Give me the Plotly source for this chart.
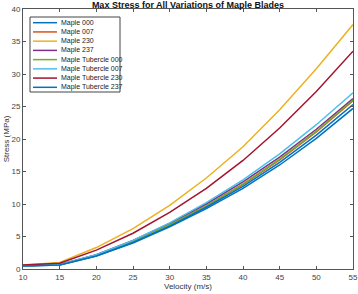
import plotly.graph_objects as go

velocity = [10, 15, 20, 25, 30, 35, 40, 45, 50, 55]
series_names = ["Maple 000", "Maple 007", "Maple 230", "Maple 237",
                "Maple Tubercle 000", "Maple Tubercle 007", "Maple Tubercle 230", "Maple Tubercle 237"]
maple_000 = [0.45, 0.6, 2.0, 4.0, 6.5, 9.3, 12.4, 16.0, 20.1, 24.7]
maple_007 = [0.5, 0.65, 2.1, 4.2, 6.8, 9.7, 13.0, 16.8, 21.1, 25.9]
maple_230 = [0.6, 1.0, 3.3, 6.2, 9.8, 14.0, 18.8, 24.5, 30.8, 37.6]
maple_237 = [0.5, 0.7, 2.2, 4.4, 7.0, 10.0, 13.4, 17.2, 21.5, 26.2]
tub_000 = [0.5, 0.65, 2.1, 4.2, 6.8, 9.7, 13.1, 16.9, 21.2, 26.0]
tub_007 = [0.5, 0.7, 2.2, 4.4, 7.1, 10.2, 13.7, 17.7, 22.2, 27.1]
tub_230 = [0.6, 0.9, 2.9, 5.5, 8.7, 12.4, 16.7, 21.7, 27.3, 33.5]
tub_237 = [0.45, 0.6, 2.0, 4.1, 6.6, 9.5, 12.7, 16.4, 20.6, 25.3]
all_values = [maple_000, maple_007, maple_230, maple_237, tub_000, tub_007, tub_230, tub_237]
colors = ["#0072BD", "#D95319", "#EDB120", "#7E2F8E", "#77AC30", "#4DBEEE", "#A2142F", "#0072BD"]

x_ticks = [10, 15, 20, 25, 30, 35, 40, 45, 50, 55]
y_ticks = [0, 5, 10, 15, 20, 25, 30, 35, 40]

W, H = 358, 294
ML, MR, MT, MB = 23, 5, 9, 25
PW, PH = W - ML - MR, H - MT - MB

def px_x(px):
    return (px - ML) / PW

def px_y(py):
    return (H - MB - py) / PH

fig = go.Figure()
for name, vals, c in zip(series_names, all_values, colors):
    fig.add_trace(go.Scatter(x=velocity, y=vals, mode="lines", name=name,
                             line=dict(color=c, width=1.5), showlegend=False,
                             hoverinfo="skip"))

# compact MATLAB-style legend (box, line samples, labels)
shapes = [dict(type="rect", xref="paper", yref="paper",
               x0=px_x(30), x1=px_x(120), y0=px_y(92), y1=px_y(17),
               line=dict(color="#444444", width=1), fillcolor="white", layer="above")]
annotations = []
for i, (name, c) in enumerate(zip(series_names, colors)):
    yy = px_y(22.7 + 9.23 * i)
    shapes.append(dict(type="line", xref="paper", yref="paper",
                       x0=px_x(33), x1=px_x(57), y0=yy, y1=yy,
                       line=dict(color=c, width=1.5), layer="above"))
    annotations.append(dict(text=name, xref="paper", yref="paper", x=px_x(59), y=yy,
                            xanchor="left", yanchor="middle", showarrow=False,
                            font=dict(size=7, color="#222222")))

axis_common = dict(showline=True, mirror="ticks", linecolor="#555555", linewidth=1,
                   ticks="inside", ticklen=3, tickcolor="#555555", showgrid=False,
                   zeroline=False, automargin=False, tickfont=dict(size=8, color="#444444"))
fig.update_layout(
    width=W, height=H,
    margin=dict(l=ML, r=MR, t=MT, b=MB, autoexpand=False),
    paper_bgcolor="white", plot_bgcolor="white",
    font=dict(family="Liberation Sans, Arial, sans-serif", color="#333333"),
    title=dict(text="<b>Max Stress for All Variations of Maple Blades</b>",
               x=188 / W, xanchor="center", y=1 - 5 / H, yanchor="middle",
               font=dict(size=9, color="#111111")),
    xaxis=dict(range=[10, 55], tickvals=x_ticks,
               title=dict(text="Velocity (m/s)", font=dict(size=8, color="#333333"), standoff=0),
               **axis_common),
    yaxis=dict(range=[0, 40], tickvals=y_ticks,
               title=dict(text="Stress (MPa)", font=dict(size=8, color="#333333"), standoff=0),
               **axis_common),
    shapes=shapes,
    annotations=annotations,
    showlegend=False,
    hovermode=False,
)

fig.write_html("out.html", config={"displayModeBar": False, "staticPlot": True},
               post_script="document.body.style.margin='0';document.body.style.overflow='hidden';")
